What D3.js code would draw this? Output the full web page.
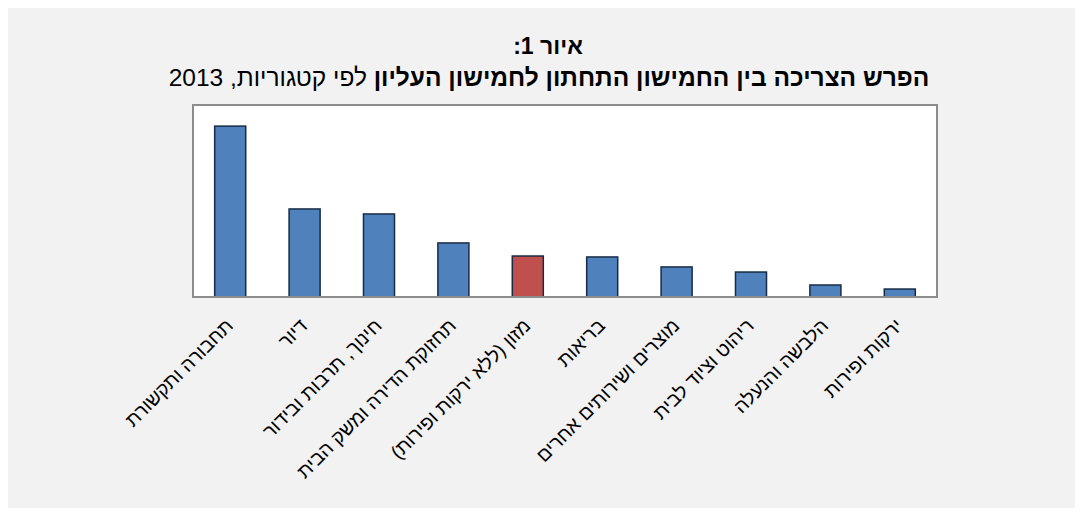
<!DOCTYPE html>
<html lang="he">
<head>
<meta charset="utf-8">
<script src="https://cdn.jsdelivr.net/npm/d3@7"></script>
<style>
  html, body { margin: 0; padding: 0; background: #ffffff; }
  svg { display: block; font-family: Arial, "Liberation Sans", sans-serif; }
</style>
</head>
<body>
<svg id="chart" width="1083" height="516"></svg>
<script>
// Consumption gap between the bottom and top quintile by category, 2013
const categories = [
  "תחבורה ותקשורת",
  "דיור",
  "חינוך, תרבות ובידור",
  "תחזוקת הדירה ומשק הבית",
  "מזון (ללא ירקות ופירות)",
  "בריאות",
  "מוצרים ושירותים אחרים",
  "ריהוט וציוד לבית",
  "הלבשה והנעלה",
  "ירקות ופירות"
];
const values = [1780, 917, 865, 563, 427, 417, 313, 260, 125, 83];
const highlighted = ["מזון (ללא ירקות ופירות)"];

const titleLine1 = "איור 1:";
const titleBold = "הפרש הצריכה בין החמישון התחתון לחמישון העליון";
const titleNormal = " לפי קטגוריות, 2013";

const svg = d3.select("#chart");

// grey chart panel
svg.append("rect")
  .attr("x", 8).attr("y", 8)
  .attr("width", 1067).attr("height", 500)
  .attr("fill", "#f2f2f2");

const plot = { left: 193, right: 937, top: 105, bottom: 297 };

const x = d3.scaleBand()
  .domain(categories)
  .range([plot.left, plot.right])
  .paddingInner(0.583)
  .paddingOuter(0.2915);

const y = d3.scaleLinear()
  .domain([0, 2000])
  .range([plot.bottom, plot.top]);

// plot area
svg.append("rect")
  .attr("x", plot.left).attr("y", plot.top)
  .attr("width", plot.right - plot.left)
  .attr("height", plot.bottom - plot.top)
  .attr("fill", "#ffffff")
  .attr("stroke", "#8c8c8c")
  .attr("stroke-width", 2);

// bars
svg.append("g").selectAll("rect")
  .data(categories)
  .join("rect")
  .attr("x", d => x(d))
  .attr("y", (d, i) => y(values[i]))
  .attr("width", x.bandwidth())
  .attr("height", (d, i) => y(0) - y(values[i]))
  .attr("fill", d => highlighted.includes(d) ? "#c0504d" : "#4f81bd")
  .attr("stroke", "#172b45")
  .attr("stroke-width", 1.5);

// baseline
svg.append("line")
  .attr("x1", plot.left).attr("x2", plot.right)
  .attr("y1", plot.bottom).attr("y2", plot.bottom)
  .attr("stroke", "#8c8c8c")
  .attr("stroke-width", 2);

// category axis, labels rotated
const xAxis = d3.axisBottom(x).tickSize(0).tickPadding(0);
const gx = svg.append("g")
  .attr("transform", `translate(0,${plot.bottom})`)
  .call(xAxis);
gx.select(".domain").remove();
gx.selectAll(".tick text")
  .attr("x", 0).attr("y", 0).attr("dy", 0)
  .attr("direction", "rtl")
  .attr("text-anchor", "start")
  .attr("font-family", "Arial, 'Liberation Sans', sans-serif")
  .attr("font-size", 19.5)
  .attr("fill", "#000")
  .attr("transform", "translate(4,30) rotate(-45)");

// title
svg.append("text")
  .attr("x", 548).attr("y", 54)
  .attr("text-anchor", "middle")
  .attr("direction", "rtl")
  .attr("font-size", 23)
  .attr("font-weight", "bold")
  .text(titleLine1);

const t2 = svg.append("text")
  .attr("x", 549).attr("y", 86)
  .attr("text-anchor", "middle")
  .attr("direction", "rtl")
  .attr("font-size", 24.5);
t2.append("tspan").attr("font-weight", "bold").text(titleBold);
t2.append("tspan").text(titleNormal);
</script>
</body>
</html>
